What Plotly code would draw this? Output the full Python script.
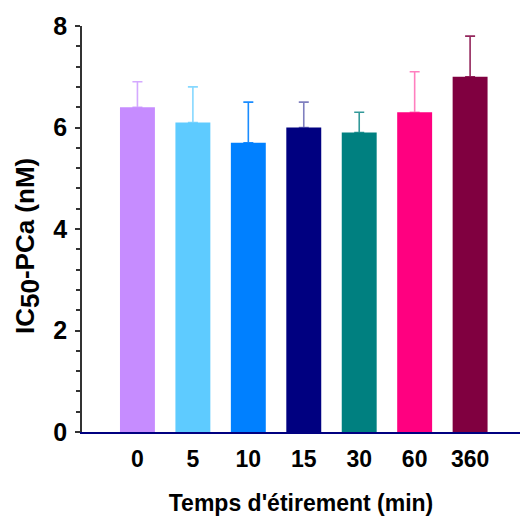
import plotly.graph_objects as go

categories = ["0", "5", "10", "15", "30", "60", "360"]
values = [6.4, 6.1, 5.7, 6.0, 5.9, 6.3, 7.0]
errors = [0.5, 0.7, 0.8, 0.5, 0.4, 0.8, 0.8]
colors = ["#c68cff", "#5ecbff", "#0080ff", "#000080", "#008080", "#ff0080", "#800040"]
err_colors = ["rgba(198,140,255,0.75)", "rgba(94,203,255,0.75)", "rgba(0,128,255,0.9)",
              "rgba(0,0,128,0.5)", "rgba(0,128,128,0.8)", "rgba(255,0,128,0.5)", "rgba(128,0,64,0.85)"]
y_ticks = [0, 2, 4, 6, 8]

FONT = "Arial, Liberation Sans, sans-serif"

fig = go.Figure()
for i, c in enumerate(categories):
    fig.add_trace(go.Bar(
        x=[c], y=[values[i]],
        marker=dict(color=colors[i], line=dict(width=0)),
        error_y=dict(type="data", array=[errors[i]], arrayminus=[0], symmetric=False,
                     color=err_colors[i], thickness=1.6, width=5),
        width=0.63, showlegend=False,
    ))

fig.update_layout(
    width=521, height=516,
    margin=dict(l=82, r=1, t=26, b=84),
    plot_bgcolor="white", paper_bgcolor="white",
    font=dict(family=FONT, color="black"),
    bargap=0.37,
    xaxis=dict(
        type="category", categoryorder="array", categoryarray=categories,
        range=[-1, 6.9], showline=True, linecolor="#000080", linewidth=1.5,
        ticks="", showgrid=False, zeroline=False, automargin=False,
        tickfont=dict(size=23, family=FONT, weight="bold"),
        ticklabelstandoff=6,
        title=dict(text="Temps d'étirement (min)", font=dict(size=23, family=FONT, weight="bold"),
                   standoff=24),
    ),
    yaxis=dict(
        range=[0, 8], tickvals=y_ticks, showline=True, linecolor="#333333", linewidth=1.5,
        ticks="outside", ticklen=5, tickcolor="#333333", tickwidth=1.5,
        minor=dict(dtick=0.4, ticks="outside", ticklen=4, tickcolor="#333333", tickwidth=1.5),
        showgrid=False, zeroline=False, automargin=False,
        tickfont=dict(size=25, family=FONT, weight="bold"),
        ticklabelstandoff=3,
    ),
    annotations=[dict(
        text='IC<sub><span style="font-size:26px">50</span></sub>-PCa (nM)',
        xref="paper", yref="paper", x=-0.1256, y=0.458, textangle=-90,
        showarrow=False, xanchor="center", yanchor="middle",
        font=dict(size=26, family=FONT, weight="bold", color="black"),
    )],
)

fig.write_html("out.html", config={"displayModeBar": False},
               post_script="document.body.style.margin='0';document.body.style.padding='0';")
